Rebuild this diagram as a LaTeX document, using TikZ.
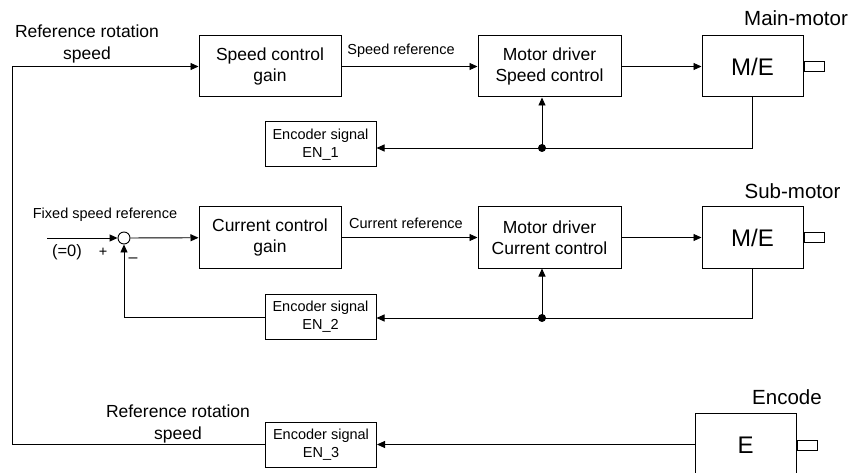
\documentclass[tikz,border=0pt]{standalone}
\usepackage{fontspec}
\setmainfont{Liberation Sans}
\usetikzlibrary{positioning, arrows.meta}

\begin{document}
\begin{tikzpicture}[
  x=1pt, y=-1pt,
  line width=0.9pt,
  >={Triangle[length=8pt, width=7pt]},
  block/.style={draw, line width=1pt, minimum height=61pt, minimum width=142pt,
                inner sep=0pt, align=center, font=\fontsize{17.5}{21}\selectfont},
  motor/.style={draw, line width=1pt, minimum height=61pt, minimum width=101pt,
                inner sep=0pt, font=\fontsize{24}{28}\selectfont},
  encbox/.style={draw, line width=1pt, minimum height=45pt, minimum width=111pt,
                 inner sep=0pt, align=center, font=\fontsize{14.5}{18}\selectfont},
  shaftbox/.style={draw, line width=1pt, minimum height=10pt, minimum width=20pt, inner sep=0pt},
  lbl/.style={font=\fontsize{14.5}{17}\selectfont, inner sep=0pt},
  big/.style={font=\fontsize{17.5}{22}\selectfont, align=center, inner sep=0pt},
  title/.style={font=\fontsize{20.5}{24}\selectfont, inner sep=0pt},
  node distance=136pt
]
  \clip (0,0) rectangle (851,473);

  % main-motor: speed loop
  \node[block]                                   (spdgain) at (270,66.5) {Speed control\\gain};
  \node[block, right=136pt of spdgain, minimum width=143pt] (drv1) {Motor driver\\Speed control};
  \node[motor, right=80pt of drv1]               (me1)    {M/E};
  \node[shaftbox, right=0pt of me1]              (shaft1) {};
  \node[encbox]                                  (enc1) at (320.5,144.5) {Encoder signal\\EN\_1};
  \node[title]                                   (mainlbl) at (796,18) {Main-motor};

  % sub-motor: current loop
  \node[draw, circle, minimum size=12pt, inner sep=0pt] (sum) at (124,238) {};
  \node[block]                                   (curgain) at (270,237.5) {Current control\\gain};
  \node[block, right=136pt of curgain, minimum width=143pt] (drv2) {Motor driver\\Current control};
  \node[motor, right=80pt of drv2]               (me2)    {M/E};
  \node[shaftbox, right=0pt of me2]              (shaft2) {};
  \node[encbox]                                  (enc2) at (320.5,317) {Encoder signal\\EN\_2};
  \node[title]                                   (sublbl) at (792.5,191) {Sub-motor};

  % encoder
  \node[motor, minimum height=64pt]              (encdr) at (745.5,445) {E};
  \node[shaftbox, right=0pt of encdr]            (shaft3) {};
  \node[encbox]                                  (enc3) at (321,444.5) {Encoder signal\\EN\_3};
  \node[title]                                   (enclbl) at (787,397) {Encode};

  % labels
  \node[big] (refspd1) at (87,44)  {Reference rotation\\speed};
  \node[big] (refspd3) at (178,424) {Reference rotation\\speed};
  \node[lbl] (spdref)  at (401,51)  {Speed reference};
  \node[lbl] (curref)  at (406,223) {Current reference};
  \node[lbl] (fixref)  at (105,215) {Fixed speed reference};
  \node[lbl, font=\fontsize{16.5}{18}\selectfont] (zero) at (67,252) {(=0)};
  \node[lbl] (plus)    at (103,252) {+};
  \node[lbl, font=\fontsize{16}{17}\selectfont] (minus) at (133,260) {–};

  \coordinate (in1)  at (12,66.5);
  \coordinate (fix)  at (47,238);
  \coordinate (tap1) at (542,148);
  \coordinate (tap2) at (542,318);

  % forward paths
  \draw[->] (in1) -- (spdgain);
  \draw[->] (spdgain) -- (drv1);
  \draw[->] (drv1) -- (me1);
  \draw[->] (fix) -- (sum.west);
  \draw[->] (sum) -- (curgain);
  \draw[->] (curgain) -- (drv2);
  \draw[->] (drv2) -- (me2);

  % feedback paths
  \draw (me1.south) |- (tap1);
  \draw[->] (tap1) -- (enc1.east |- tap1);
  \draw[->] (tap1) -- (tap1 |- drv1.south);
  \fill (tap1) circle (4pt);

  \draw (me2.south) |- (tap2);
  \draw[->] (tap2) -- (enc2.east |- tap2);
  \draw[->] (tap2) -- (tap2 |- drv2.south);
  \fill (tap2) circle (4pt);
  \draw[->] (enc2.west) -| (sum.south);

  % encoder return
  \draw[->] (encdr.west |- enc3) -- (enc3);
  \draw (enc3.west) -| (in1);
\end{tikzpicture}
\end{document}
